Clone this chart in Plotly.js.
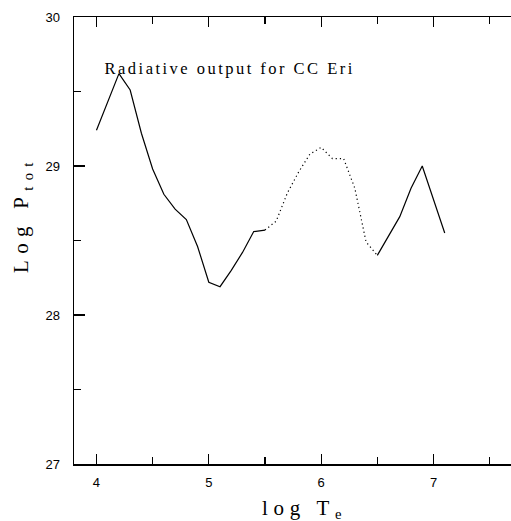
<!DOCTYPE html>
<html>
<head>
<meta charset="utf-8">
<script src="https://cdn.plot.ly/plotly-3.0.1.min.js"></script>
<style>
html,body{margin:0;padding:0;background:#fff;overflow:hidden;}
#chart{width:511px;height:521px;}
#chart .annotation .annotation-text{letter-spacing:0.27em;}
#chart .annotation[data-index="0"] .annotation-text{letter-spacing:0.15em;}
#chart .annotation[data-index="2"] .annotation-text{letter-spacing:0.3em;}
</style>
</head>
<body>
<div id="chart"></div>
<script>
// Solid segment 1
const solid1X = [4.0, 4.2, 4.3, 4.4, 4.5, 4.6, 4.7, 4.8, 4.9, 5.0, 5.1, 5.2, 5.3, 5.4, 5.5];
const solid1Y = [29.24, 29.62, 29.51, 29.22, 28.98, 28.81, 28.71, 28.64, 28.46, 28.22, 28.19, 28.30, 28.42, 28.56, 28.57];
// Dotted segment
const dottedX = [5.5, 5.6, 5.7, 5.8, 5.9, 6.0, 6.1, 6.2, 6.3, 6.4, 6.5];
const dottedY = [28.57, 28.63, 28.82, 28.96, 29.08, 29.125, 29.05, 29.05, 28.85, 28.49, 28.40];
// Solid segment 2
const solid2X = [6.5, 6.6, 6.7, 6.8, 6.9, 7.1];
const solid2Y = [28.40, 28.53, 28.66, 28.85, 29.00, 28.55];

const xTicks = [4, 5, 6, 7];
const yTicks = [27, 28, 29, 30];
const titleText = "Radiative output for CC Eri";
const xTitle = "log T<sub>e</sub>";
const yTitle = "Log P<sub>tot</sub>";

const lineStyle = {color: '#000', width: 1.2};
const traces = [
  {x: solid1X, y: solid1Y, mode: 'lines', line: lineStyle, hoverinfo: 'skip'},
  {x: dottedX, y: dottedY, mode: 'lines', line: {color: '#000', width: 1.2, dash: '1.2px,3px'}, hoverinfo: 'skip'},
  {x: solid2X, y: solid2Y, mode: 'lines', line: lineStyle, hoverinfo: 'skip'}
];

const serif = '"Liberation Serif", "DejaVu Serif", serif';
const sans = '"Liberation Sans", Arial, sans-serif';

const layout = {
  width: 511, height: 521,
  margin: {l: 74, r: 0, t: 17, b: 57, pad: 0},
  paper_bgcolor: '#fff', plot_bgcolor: '#fff',
  showlegend: false,
  xaxis: {
    range: [3.8, 7.69], tickvals: xTicks, ticktext: xTicks.map(String),
    ticks: 'inside', ticklen: 10, tickwidth: 1.2, tickcolor: '#000',
    minor: {dtick: 0.5, tick0: 0, ticks: 'inside', ticklen: 7, tickwidth: 1.2, tickcolor: '#000'},
    showline: true, linecolor: '#000', linewidth: 1.5, mirror: 'allticks',
    showgrid: false, zeroline: false,
    ticklabelstandoff: 6,
    tickfont: {family: sans, size: 13, color: '#000'}
  },
  yaxis: {
    range: [27, 30], tickvals: yTicks, ticktext: yTicks.map(String),
    ticks: 'inside', ticklen: 11, tickwidth: 1.2, tickcolor: '#000',
    minor: {dtick: 0.5, tick0: 0, ticks: 'inside', ticklen: 7, tickwidth: 1.2, tickcolor: '#000'},
    showline: true, linecolor: '#000', linewidth: 1.5, mirror: false,
    showgrid: false, zeroline: false,
    ticklabelstandoff: 10,
    tickfont: {family: sans, size: 13, color: '#000'}
  },
  annotations: [
    {text: titleText, xref: 'x', yref: 'y', x: 5.185, y: 29.655, xanchor: 'center', yanchor: 'middle',
     showarrow: false, font: {family: serif, size: 16.5, color: '#000'}},
    {text: xTitle, xref: 'paper', yref: 'paper', x: 0.5286, y: 0, yshift: -30, xanchor: 'center', yanchor: 'top',
     showarrow: false, font: {family: serif, size: 21, color: '#000'}},
    {text: yTitle, xref: 'paper', yref: 'paper', x: 0, xshift: -37, y: 0.5576, xanchor: 'right', yanchor: 'middle',
     textangle: -90, showarrow: false, font: {family: serif, size: 21, color: '#000'}}
  ]
};

Plotly.newPlot('chart', traces, layout, {staticPlot: true, displayModeBar: false});
</script>
</body>
</html>
